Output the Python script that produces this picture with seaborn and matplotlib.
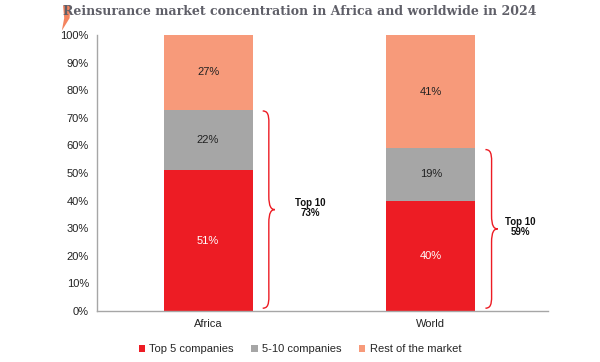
import numpy as np
import pandas as pd
import matplotlib
matplotlib.use("Agg")
import matplotlib.pyplot as plt
import seaborn as sns
from matplotlib.path import Path
from matplotlib.patches import PathPatch, Patch, Polygon

# Data
regions = ["Africa", "World"]
top5 = [51, 40]
top5_10 = [22, 19]
rest = [27, 41]
series_names = ["Top 5 companies", "5-10 companies", "Rest of the market"]
colors = ["#ED1C24", "#A6A6A6", "#F79A7A"]

sns.set_style("white")
plt.rcParams["font.family"] = ["Liberation Sans", "DejaVu Sans"]

df = pd.DataFrame({"region": regions, "top5": top5, "top5_10": top5_10, "rest": rest})
df["top10"] = df["top5"] + df["top5_10"]
df["total"] = df["top10"] + df["rest"]

fig = plt.figure(figsize=(6, 3.62), dpi=100)
ax = fig.add_axes([0.162, 0.141, 0.751, 0.762])

# layered bars, back to front
for col, c in zip(["total", "top10", "top5"], colors[::-1]):
    sns.barplot(data=df, x="region", y=col, color=c, width=0.4,
                saturation=1, linewidth=0, edgecolor="none", ax=ax)

# value labels
for i, row in df.iterrows():
    ax.text(i, row["top5"] / 2, f"{row['top5']}%", ha="center", va="center",
            color="white", fontsize=8)
    ax.text(i, row["top5"] + row["top5_10"] / 2, f"{row['top5_10']}%",
            ha="center", va="center", color="#222222", fontsize=8)
    ax.text(i, row["top10"] + row["rest"] / 2, f"{row['rest']}%",
            ha="center", va="center", color="#222222", fontsize=8)


def brace(ax, x0, y0, y1, depth):
    ym = (y0 + y1) / 2
    d = depth
    verts = [
        (x0, y1),
        (x0 + d * 0.6, y1), (x0 + d * 0.5, y1 - 3), (x0 + d * 0.5, y1 - 8),
        (x0 + d * 0.5, ym + 5),
        (x0 + d * 0.5, ym + 1), (x0 + d * 0.7, ym), (x0 + d, ym),
        (x0 + d * 0.7, ym), (x0 + d * 0.5, ym - 1), (x0 + d * 0.5, ym - 5),
        (x0 + d * 0.5, y0 + 8),
        (x0 + d * 0.5, y0 + 3), (x0 + d * 0.6, y0), (x0, y0),
    ]
    codes = [Path.MOVETO,
             Path.CURVE4, Path.CURVE4, Path.CURVE4,
             Path.LINETO,
             Path.CURVE4, Path.CURVE4, Path.CURVE4,
             Path.CURVE4, Path.CURVE4, Path.CURVE4,
             Path.LINETO,
             Path.CURVE4, Path.CURVE4, Path.CURVE4]
    ax.add_patch(PathPatch(Path(verts, codes), fill=False, edgecolor="#ED1C24",
                           lw=1.0, clip_on=False))

text_offsets = [0.457, 0.40]
for i, row in df.iterrows():
    brace(ax, i + 0.245, 1, row["top10"] - 0.5, 0.055)
    ax.text(i + text_offsets[i], (row["top10"]) / 2 + 1, f"Top 10\n{row['top10']}%",
            ha="center", va="center", fontsize=7, fontweight="bold",
            fontstretch="normal", family=["Liberation Sans"],
            color="#111111", linespacing=1.0)

ax.set_xlim(-0.498, 1.525)
ax.set_ylim(0, 100)
ax.set_yticks(np.arange(0, 101, 10))
ax.set_yticklabels([f"{v}%" for v in range(0, 101, 10)])
ax.set_xlabel("")
ax.set_ylabel("")
ax.tick_params(axis="both", length=0, labelsize=8, colors="#222222", pad=6)
for s in ["top", "right"]:
    ax.spines[s].set_visible(False)
for s in ["left", "bottom"]:
    ax.spines[s].set_color("#A6A6A6")
    ax.spines[s].set_linewidth(1.0)

handles = [Patch(facecolor=c, edgecolor="none", label=n) for c, n in zip(colors, series_names)]
fig.legend(handles=handles, loc="center", bbox_to_anchor=(0.5, 0.035), ncol=3,
           frameon=False, fontsize=8, handlelength=0.55, handleheight=0.55,
           handletextpad=0.4, columnspacing=1.6)

# title with small accent mark
fig.text(0.5, 0.967, "Reinsurance market concentration in Africa and worldwide in 2024",
         ha="center", va="center", fontsize=9, fontweight="bold",
         family=["DejaVu Serif"], color="#5F5F68")
fig.patches.append(Polygon([[0.105, 0.985], [0.117, 0.985], [0.116, 0.95],
                            [0.103, 0.915], [0.107, 0.95]],
                           closed=True, transform=fig.transFigure,
                           facecolor="#F4845F", edgecolor="none"))

fig.savefig("out.png", dpi=100)
